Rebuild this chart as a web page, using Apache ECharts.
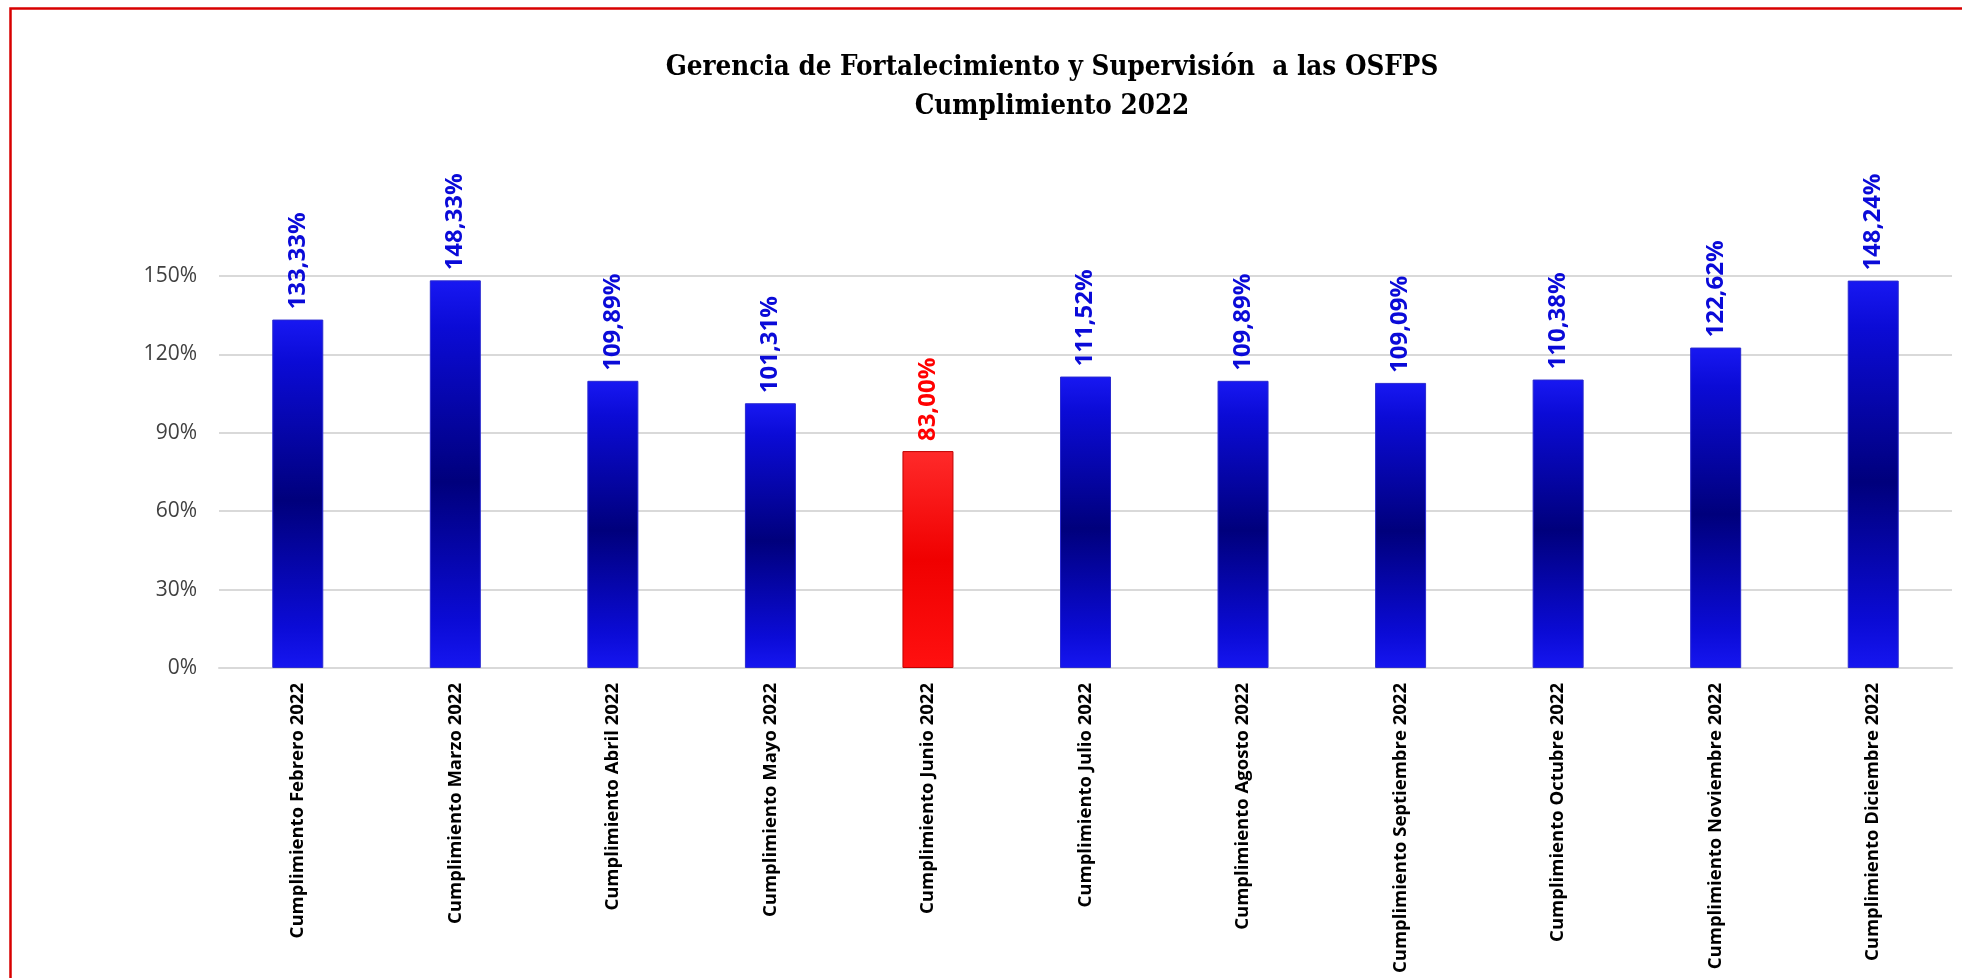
<!DOCTYPE html>
<html>
<head>
<meta charset="utf-8">
<title>Cumplimiento 2022</title>
<script src="https://cdn.jsdelivr.net/npm/echarts@6/dist/echarts.min.js"></script>
<style>
  html, body { margin: 0; padding: 0; background: #fff; }
  #chart { width: 1962px; height: 978px; }
</style>
</head>
<body>
<div id="chart"></div>
<script>
const categories = [
  "Cumplimiento Febrero 2022",
  "Cumplimiento Marzo 2022",
  "Cumplimiento Abril 2022",
  "Cumplimiento Mayo 2022",
  "Cumplimiento Junio 2022",
  "Cumplimiento Julio 2022",
  "Cumplimiento Agosto 2022",
  "Cumplimiento Septiembre 2022",
  "Cumplimiento Octubre 2022",
  "Cumplimiento Noviembre 2022",
  "Cumplimiento Diciembre 2022",
];
const cumplimiento = [133.33, 148.33, 109.89, 101.31, 83.0, 111.52, 109.89, 109.09, 110.38, 122.62, 148.24];
const yTicks = [0, 30, 60, 90, 120, 150];

const chart = echarts.init(document.getElementById("chart"));

// blue bars: bright at both ends, dark navy in the middle
const blueFill = new echarts.graphic.LinearGradient(0, 0, 0, 1, [
  { offset: 0, color: "#1818f2" },
  { offset: 0.12, color: "#0b0bd6" },
  { offset: 0.52, color: "#00007c" },
  { offset: 0.88, color: "#0b0bd6" },
  { offset: 1, color: "#1616f0" },
]);
const redFill = new echarts.graphic.LinearGradient(0, 0, 0, 1, [
  { offset: 0, color: "#ff2a2a" },
  { offset: 0.5, color: "#f00000" },
  { offset: 1, color: "#ff1010" },
]);

const fmt = (v) => v.toFixed(2).replace(".", ",") + "%";

const barData = cumplimiento.map((v) => {
  const low = v < 100;
  return {
    value: v,
    itemStyle: {
      color: low ? redFill : blueFill,
      borderColor: low ? "#c00000" : "#2a2ad0",
      borderWidth: 1,
    },
    label: { color: low ? "#ff0000" : "#0a0ad8" },
  };
});

const option = {
  animation: false,
  backgroundColor: "#ffffff",
  title: {
    text: "Gerencia de Fortalecimiento y Supervisión  a las OSFPS\nCumplimiento 2022",
    left: 1047,
    top: 43,
    textAlign: "center",
    textStyle: {
      fontFamily: "DejaVu Serif Condensed",
      fontWeight: "bold",
      fontSize: 27.5,
      lineHeight: 39,
      color: "#000000",
    },
  },
  graphic: [
    {
      type: "rect",
      shape: { x: 10.5, y: 8.5, width: 2000, height: 1000 },
      style: { fill: null, stroke: "#d80000", lineWidth: 2.5 },
      z: 100,
    },
  ],
  grid: {
    left: 219,
    right: 10,
    top: 276,
    bottom: 310,
  },
  xAxis: {
    type: "category",
    data: categories,
    axisTick: { show: false },
    axisLine: { lineStyle: { color: "#d9d9d9", width: 2 } },
    axisLabel: {
      rotate: 90,
      interval: 0,
      margin: 15,
      fontFamily: "Open Sans",
      fontWeight: "bold",
      fontSize: 18.5,
      color: "#000000",
    },
  },
  yAxis: {
    type: "value",
    min: yTicks[0],
    max: yTicks[yTicks.length - 1],
    interval: yTicks[1] - yTicks[0],
    axisLine: { show: false },
    axisTick: { show: false },
    splitLine: { lineStyle: { color: "#d9d9d9", width: 2 } },
    axisLabel: {
      margin: 22,
      fontFamily: "Open Sans",
      fontSize: 21,
      color: "#404040",
      formatter: (v) => v + "%",
    },
  },
  series: [
    {
      type: "bar",
      data: barData,
      barWidth: 51,
      label: {
        show: true,
        position: "top",
        rotate: 90,
        align: "left",
        verticalAlign: "middle",
        distance: 10,
        fontFamily: "Open Sans",
        fontWeight: "bold",
        fontSize: 24,
        formatter: (p) => fmt(p.value),
      },
    },
  ],
};

chart.setOption(option);
window.addEventListener("resize", () => chart.resize());
</script>
</body>
</html>
